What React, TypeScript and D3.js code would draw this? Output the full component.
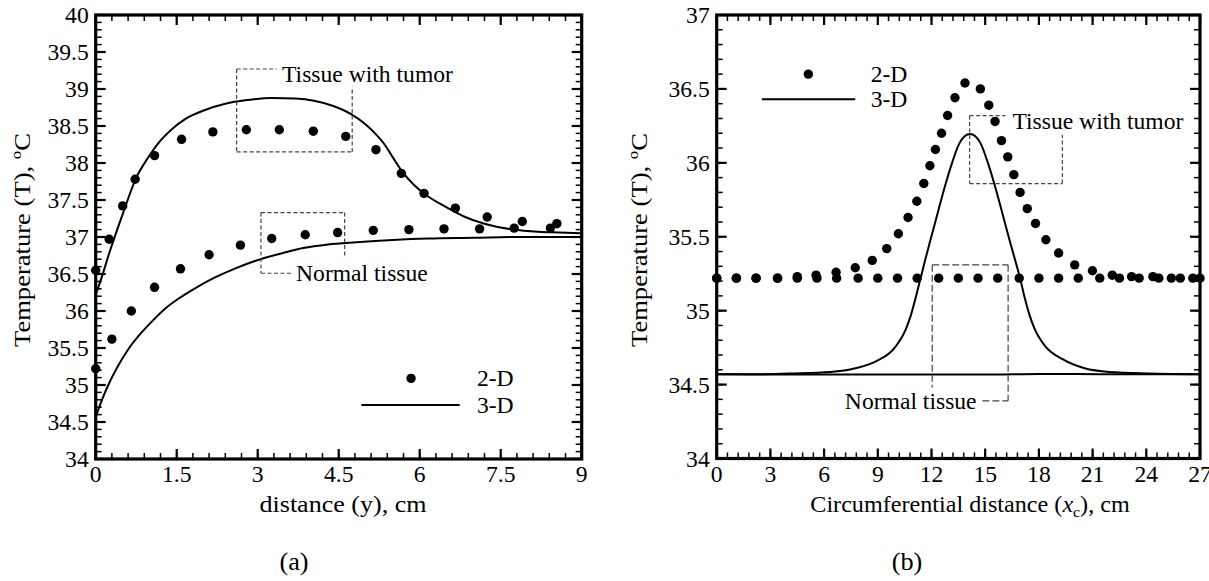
import React from 'react';
import * as d3 from 'd3';

// ---------------- Panel (a): distance (y) ----------------
const aXTicks = [0, 1.5, 3, 4.5, 6, 7.5, 9];
const aXTickLabels = ['0', '1.5', '3', '4.5', '6', '7.5', '9'];
const aYTicks = [34, 34.5, 35, 35.5, 36, 36.5, 37, 37.5, 38, 38.5, 39, 39.5, 40];
const aYTickLabels = ['34', '34.5', '35', '35.5', '36', '36.5', '37', '37.5', '38', '38.5', '39', '39.5', '40'];

const aTumor3DX = [0, 0.1, 0.25, 0.51, 0.75, 0.95, 1.15, 1.4, 1.67, 2.0, 2.4, 2.8, 3.25, 3.7, 4.04, 4.4, 4.73, 5.0, 5.16, 5.35, 5.49, 5.69, 5.9, 6.15, 6.5, 6.81, 7.2, 7.73, 8.2, 8.58, 9];
const aTumor3DT = [36.22, 36.43, 36.78, 37.33, 37.8, 38.05, 38.26, 38.45, 38.6, 38.71, 38.8, 38.85, 38.88, 38.87, 38.84, 38.77, 38.66, 38.52, 38.41, 38.25, 38.09, 37.87, 37.7, 37.55, 37.4, 37.28, 37.18, 37.1, 37.07, 37.06, 37.05];

const aNormal3DX = [0, 0.1, 0.22, 0.4, 0.61, 0.85, 1.07, 1.3, 1.54, 1.8, 2.2, 2.6, 3.05, 3.5, 3.84, 4.3, 4.83, 5.5, 6.15, 7, 7.8, 8.58, 9];
const aNormal3DT = [34.57, 34.77, 34.98, 35.24, 35.49, 35.71, 35.88, 36.04, 36.17, 36.29, 36.45, 36.58, 36.7, 36.79, 36.85, 36.9, 36.93, 36.96, 36.98, 36.99, 37.0, 37.0, 37.0];

const aTumor2DX = [0, 0.25, 0.5, 0.73, 1.09, 1.59, 2.17, 2.79, 3.4, 4.03, 4.63, 5.19, 5.66, 6.08, 6.66, 7.25, 7.9, 8.54];
const aTumor2DT = [36.55, 36.97, 37.42, 37.78, 38.1, 38.32, 38.42, 38.45, 38.45, 38.43, 38.36, 38.18, 37.86, 37.59, 37.39, 37.27, 37.21, 37.18];

const aNormal2DX = [0, 0.3, 0.66, 1.09, 1.57, 2.1, 2.68, 3.26, 3.88, 4.48, 5.14, 5.8, 6.45, 7.11, 7.75, 8.42];
const aNormal2DT = [35.22, 35.62, 36.0, 36.32, 36.57, 36.76, 36.89, 36.98, 37.03, 37.06, 37.09, 37.1, 37.11, 37.11, 37.12, 37.12];

// ---------------- Panel (b): circumferential distance ----------------
const bXTicks = [0, 3, 6, 9, 12, 15, 18, 21, 24, 27];
const bXTickLabels = ['0', '3', '6', '9', '12', '15', '18', '21', '24', '27'];
const bYTicks = [34, 34.5, 35, 35.5, 36, 36.5, 37];
const bYTickLabels = ['34', '34.5', '35', '35.5', '36', '36.5', '37'];

const bTumor3DX = [0, 2, 4.15, 6.35, 7.75, 8.95, 9.95, 10.55, 10.85, 11.1, 11.35, 11.6, 11.9, 12.3, 12.7, 13.15, 13.55, 13.85, 14.15, 14.45, 14.75, 15.15, 15.6, 16.0, 16.4, 16.7, 16.95, 17.2, 17.45, 17.75, 18.35, 19.35, 20.55, 21.95, 24.15, 27];
const bTumor3DT = [34.57, 34.57, 34.575, 34.585, 34.61, 34.66, 34.75, 34.87, 34.97, 35.08, 35.2, 35.32, 35.46, 35.64, 35.82, 36.0, 36.13, 36.18, 36.195, 36.18, 36.13, 36.0, 35.82, 35.64, 35.46, 35.33, 35.22, 35.09, 34.98, 34.88, 34.76, 34.67, 34.61, 34.585, 34.575, 34.57];

const bNormal3DX = [0, 5, 10, 15, 18, 22, 27];
const bNormal3DT = [34.57, 34.568, 34.568, 34.568, 34.572, 34.57, 34.57];

const bTumor2DX = [0, 1.1, 2.2, 3.4, 4.5, 5.55, 6.67, 7.74, 8.69, 9.5, 10.15, 10.69, 11.18, 11.57, 11.91, 12.22, 12.56, 12.9, 13.31, 13.87, 14.73, 15.2, 15.55, 15.91, 16.26, 16.6, 16.95, 17.35, 17.81, 18.39, 19.1, 20.0, 20.99, 22.1, 23.18, 24.37, 25.4, 26.6];
const bTumor2DT = [35.22, 35.22, 35.22, 35.22, 35.23, 35.24, 35.26, 35.29, 35.34, 35.42, 35.52, 35.63, 35.74, 35.86, 35.98, 36.09, 36.2, 36.32, 36.44, 36.54, 36.5, 36.39, 36.28, 36.15, 36.04, 35.92, 35.8, 35.69, 35.59, 35.48, 35.39, 35.31, 35.27, 35.24, 35.23, 35.23, 35.22, 35.22];

const bNormal2DX = [0, 1.1, 2.2, 3.4, 4.5, 5.6, 6.7, 7.9, 9.0, 10.1, 11.2, 12.4, 13.5, 14.6, 15.7, 16.9, 18.0, 19.1, 20.2, 21.4, 22.5, 23.6, 24.7, 25.9, 27.0];
const bNormal2DT = [35.22, 35.22, 35.22, 35.22, 35.22, 35.22, 35.22, 35.22, 35.22, 35.22, 35.22, 35.22, 35.22, 35.22, 35.22, 35.22, 35.22, 35.22, 35.22, 35.22, 35.22, 35.22, 35.22, 35.22, 35.22];

// ---------------- layout / style ----------------
const W = 1209;
const H = 581;
const FONT = "'Liberation Serif', 'Times New Roman', serif";
const SX = 1.05;
const FS = 22.5;

const xA = d3.scaleLinear().domain([0, 9]).range([95.7, 581.7]);
const yA = d3.scaleLinear().domain([34, 40]).range([459, 15]);
const xB = d3.scaleLinear().domain([0, 27]).range([716.7, 1200]);
const yB = d3.scaleLinear().domain([34, 37]).range([458.5, 15]);

function Txt({ x, y, size, anchor = 'start', children, len }: any) {
  return (
    <text
      transform={`translate(${x},${y}) scale(${len ? 1 : SX},1)`}
      fontSize={size}
      textAnchor={anchor}
      fontFamily={FONT}
      fill="#000"
      textLength={len}
      lengthAdjust={len ? 'spacingAndGlyphs' : undefined}
    >
      {children}
    </text>
  );
}

function Frame({ x, y, xTicks, xLabels, xMinorStep, yTicks, yLabels, yMinorStep }: any) {
  const [x0, x1] = x.range();
  const [y0, y1] = y.range();
  const [dx0, dx1] = x.domain();
  const [dy0, dy1] = y.domain();
  const xMinor = d3.range(dx0, dx1 + 1e-6, xMinorStep);
  const yMinor = d3.range(dy0, dy1 + 1e-6, yMinorStep);
  const MJ = 10;
  const MN = 6;
  return (
    <g>
      {xMinor.map((v: number, i: number) => (
        <g key={'xm' + i} stroke="#000" strokeWidth={1.5}>
          <line x1={x(v)} x2={x(v)} y1={y0} y2={y0 - MN} />
          <line x1={x(v)} x2={x(v)} y1={y1} y2={y1 + MN} />
        </g>
      ))}
      {yMinor.map((v: number, i: number) => (
        <g key={'ym' + i} stroke="#000" strokeWidth={1.5}>
          <line x1={x0} x2={x0 + MN} y1={y(v)} y2={y(v)} />
          <line x1={x1} x2={x1 - MN} y1={y(v)} y2={y(v)} />
        </g>
      ))}
      {xTicks.map((v: number, i: number) => (
        <g key={'xM' + i} stroke="#000" strokeWidth={2.2}>
          <line x1={x(v)} x2={x(v)} y1={y0} y2={y0 - MJ} />
          <line x1={x(v)} x2={x(v)} y1={y1} y2={y1 + MJ} />
        </g>
      ))}
      {yTicks.map((v: number, i: number) => (
        <g key={'yM' + i} stroke="#000" strokeWidth={2.2}>
          <line x1={x0} x2={x0 + MJ} y1={y(v)} y2={y(v)} />
          <line x1={x1} x2={x1 - MJ} y1={y(v)} y2={y(v)} />
        </g>
      ))}
      <rect x={x0} y={y1} width={x1 - x0} height={y0 - y1} fill="none" stroke="#000" strokeWidth={3.2} />
      {xTicks.map((v: number, i: number) => (
        <Txt key={'xl' + i} x={x(v)} y={y0 + 23} size={FS} anchor="middle">
          {xLabels[i]}
        </Txt>
      ))}
      {yTicks.map((v: number, i: number) => (
        <Txt key={'yl' + i} x={x0 - 7} y={y(v) + 8} size={FS} anchor="end">
          {yLabels[i]}
        </Txt>
      ))}
    </g>
  );
}

function Curve({ xs, ts, x, y }: any) {
  const pts = xs.map((v: number, i: number) => [v, ts[i]]);
  const line = d3
    .line<number[]>()
    .x((d) => x(d[0]))
    .y((d) => y(d[1]))
    .curve(d3.curveMonotoneX);
  return <path d={line(pts) || ''} fill="none" stroke="#000" strokeWidth={2} />;
}

function Dots({ xs, ts, x, y }: any) {
  return (
    <g>
      {xs.map((v: number, i: number) => (
        <circle key={i} cx={x(v)} cy={y(ts[i])} r={4.7} fill="#000" />
      ))}
    </g>
  );
}

function DashPath({ segs, x, y, dash }: any) {
  const d = segs
    .map((s: number[]) => `M${x(s[0])},${y(s[1])}L${x(s[2])},${y(s[3])}`)
    .join('');
  return <path d={d} fill="none" stroke="#444" strokeWidth={1.2} strokeDasharray={dash} />;
}

function YTitle({ cx, cy }: any) {
  return (
    <text
      transform={`translate(${cx},${cy}) rotate(-90)`}
      y={7}
      fontSize={23.5}
      textAnchor="middle"
      fontFamily={FONT}
      fill="#000"
      textLength={214}
      lengthAdjust="spacingAndGlyphs"
    >
      Temperature (T),{' '}
      <tspan dy={-9} fontSize={15}>o</tspan>
      <tspan dy={9}>C</tspan>
    </text>
  );
}

export default function App() {
  return (
    <svg
      width={W}
      height={H}
      viewBox={`0 0 ${W} ${H}`}
      style={{ position: 'absolute', left: 0, top: 0, background: '#fff' }}
    >
      <rect x={0} y={0} width={W} height={H} fill="#fff" />

      {/* ---------- panel (a) ---------- */}
      <Curve xs={aTumor3DX} ts={aTumor3DT} x={xA} y={yA} />
      <Curve xs={aNormal3DX} ts={aNormal3DT} x={xA} y={yA} />
      <Dots xs={aTumor2DX} ts={aTumor2DT} x={xA} y={yA} />
      <Dots xs={aNormal2DX} ts={aNormal2DT} x={xA} y={yA} />

      <DashPath
        x={xA}
        y={yA}
        dash="4 2.5"
        segs={[
          [2.61, 39.27, 3.35, 39.27],
          [2.61, 39.27, 2.61, 38.15],
          [2.61, 38.15, 4.75, 38.15],
          [4.75, 38.15, 4.75, 39.03],
        ]}
      />
      <Txt x={xA(3.45)} y={yA(39.2) + 8} size={FS}>Tissue with tumor</Txt>
      <DashPath
        x={xA}
        y={yA}
        dash="4 2.5"
        segs={[
          [3.06, 37.33, 4.61, 37.33],
          [3.06, 37.33, 3.06, 36.51],
          [3.06, 36.51, 3.65, 36.51],
          [4.61, 37.33, 4.61, 36.73],
        ]}
      />
      <Txt x={xA(3.71)} y={yA(36.51) + 8} size={FS}>Normal tissue</Txt>

      {/* legend (a) */}
      <circle cx={xA(5.84)} cy={yA(35.09)} r={4.7} fill="#000" />
      <Txt x={xA(7.06)} y={yA(35.09) + 8} size={FS}>2-D</Txt>
      <line x1={xA(4.92)} x2={xA(6.74)} y1={yA(34.73)} y2={yA(34.73)} stroke="#000" strokeWidth={2} />
      <Txt x={xA(7.06)} y={yA(34.73) + 8} size={FS}>3-D</Txt>

      <Frame
        x={xA}
        y={yA}
        xTicks={aXTicks}
        xLabels={aXTickLabels}
        xMinorStep={0.3}
        yTicks={aYTicks}
        yLabels={aYTickLabels}
        yMinorStep={0.1}
      />
      <YTitle cx={23} cy={240} />
      <Txt x={343} y={512} size={23} anchor="middle" len={167}>distance (y), cm</Txt>
      <Txt x={294} y={570} size={25} anchor="middle">(a)</Txt>

      {/* ---------- panel (b) ---------- */}
      <Curve xs={bTumor3DX} ts={bTumor3DT} x={xB} y={yB} />
      <Curve xs={bNormal3DX} ts={bNormal3DT} x={xB} y={yB} />
      <Dots xs={bNormal2DX} ts={bNormal2DT} x={xB} y={yB} />
      <Dots xs={bTumor2DX} ts={bTumor2DT} x={xB} y={yB} />

      <DashPath
        x={xB}
        y={yB}
        dash="4 2.5"
        segs={[
          [14.13, 36.32, 16.13, 36.32],
          [14.13, 36.32, 14.13, 35.86],
          [14.13, 35.86, 19.31, 35.86],
          [19.31, 35.86, 19.31, 36.19],
        ]}
      />
      <Txt x={xB(16.52)} y={yB(36.28) + 8} size={FS}>Tissue with tumor</Txt>
      <DashPath
        x={xB}
        y={yB}
        dash="7 3"
        segs={[
          [12.04, 35.31, 16.28, 35.31],
          [12.04, 35.31, 12.04, 34.48],
          [16.28, 35.31, 16.28, 34.39],
          [14.84, 34.39, 16.28, 34.39],
        ]}
      />
      <Txt x={xB(14.52)} y={yB(34.39) + 8} size={FS} anchor="end">Normal tissue</Txt>

      {/* legend (b) */}
      <circle cx={xB(5.12)} cy={yB(36.6)} r={4.7} fill="#000" />
      <Txt x={xB(8.6)} y={yB(36.6) + 8} size={FS}>2-D</Txt>
      <line x1={xB(2.52)} x2={xB(7.74)} y1={yB(36.43)} y2={yB(36.43)} stroke="#000" strokeWidth={2} />
      <Txt x={xB(8.6)} y={yB(36.43) + 8} size={FS}>3-D</Txt>

      <Frame
        x={xB}
        y={yB}
        xTicks={bXTicks}
        xLabels={bXTickLabels}
        xMinorStep={0.6}
        yTicks={bYTicks}
        yLabels={bYTickLabels}
        yMinorStep={0.1}
      />
      <YTitle cx={640} cy={240} />
      <Txt x={970} y={512} size={23} anchor="middle">
        Circumferential distance (<tspan fontStyle="italic">x</tspan>
        <tspan dy={5} fontSize={15}>c</tspan>
        <tspan dy={-5}>), cm</tspan>
      </Txt>
      <Txt x={907} y={570} size={25} anchor="middle">(b)</Txt>
    </svg>
  );
}
